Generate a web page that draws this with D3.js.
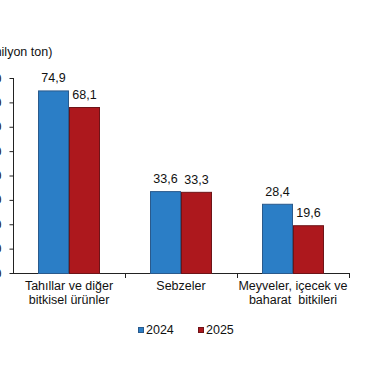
<!DOCTYPE html>
<html>
<head>
<meta charset="utf-8">
<script src="https://cdn.jsdelivr.net/npm/d3@7"></script>
<style>
body { margin: 0; background: #fff; }
text { font-family: "Liberation Sans", Arial, sans-serif; fill: #111; }
</style>
</head>
<body>
<div id="chart"></div>
<script>
// data
var categories = [["Tahıllar ve diğer", "bitkisel ürünler"], ["Sebzeler"], ["Meyveler, içecek ve", "baharat  bitkileri"]];
var years = ["2024", "2025"];
var values2024 = [74.9, 33.6, 28.4];
var values2025 = [68.1, 33.3, 19.6];
var yTicks = [0, 10, 20, 30, 40, 50, 60, 70, 80];
var colors = ["#2b7ec6", "#ad181d"];
var strokes = ["#2a5a8c", "#6e1418"];

var width = 370, height = 380;
var mLeft = 13, mRight = 349, mTop = 78, mBottom = 273;

var svg = d3.select("#chart").append("svg")
    .attr("width", width).attr("height", height);

var x = d3.scaleBand().domain(d3.range(categories.length)).range([mLeft, mRight]).paddingInner(0).paddingOuter(0);
var y = d3.scaleLinear().domain([0, 80]).range([mBottom, mTop]);

// unit title, cut at the left as in the original
svg.append("text").attr("x", -13).attr("y", 56).attr("font-size", 12.5).text("(milyon ton)");

// y axis
var yAxis = svg.append("g").attr("transform", "translate(" + (mLeft + 0.5) + ",0)")
    .call(d3.axisLeft(y).tickValues(yTicks).tickSize(4).tickPadding(8).tickFormat(d3.format("d")));
yAxis.selectAll("text").attr("font-size", 12.5).style("font-family", "Liberation Sans, Arial, sans-serif").attr("fill", "#111");
yAxis.selectAll("line").attr("stroke", "#222");
yAxis.select(".domain").attr("stroke", "#222").attr("d", "M0," + mTop + "V" + mBottom);

// x axis line and category ticks
svg.append("line").attr("x1", mLeft).attr("x2", mRight).attr("y1", mBottom + 0.5).attr("y2", mBottom + 0.5).attr("stroke", "#222");
svg.selectAll(".xt").data(d3.range(1, categories.length + 1)).enter().append("line")
    .attr("x1", function(d) { return d < categories.length ? x(d) + 0.5 : mRight + 0.5; })
    .attr("x2", function(d) { return d < categories.length ? x(d) + 0.5 : mRight + 0.5; })
    .attr("y1", mBottom).attr("y2", mBottom + 5).attr("stroke", "#222");

var barW = 31;
var series = [values2024, values2025];
series.forEach(function(vals, s) {
  var g = svg.append("g");
  g.selectAll("rect").data(vals).enter().append("rect")
    .attr("x", function(d, i) { return x(i) + x.bandwidth() / 2 - barW + s * barW + 0.5; })
    .attr("y", function(d) { return y(d) + 0.5; })
    .attr("width", barW - 1)
    .attr("height", function(d) { return y(0) - y(d); })
    .attr("fill", colors[s])
    .attr("stroke", strokes[s]).attr("stroke-width", 1);
  g.selectAll("text").data(vals).enter().append("text")
    .attr("x", function(d, i) { return x(i) + x.bandwidth() / 2 - barW + s * barW + barW / 2; })
    .attr("y", function(d) { return y(d) - 8; })
    .attr("text-anchor", "middle").attr("font-size", 12.5)
    .text(function(d) { return d3.format(".1f")(d).replace(".", ","); });
});

// category labels
categories.forEach(function(lines, i) {
  var t = svg.append("text").attr("text-anchor", "middle").attr("font-size", 12.5)
    .attr("x", x(i) + x.bandwidth() / 2).attr("y", 290);
  lines.forEach(function(l, k) {
    t.append("tspan").attr("x", x(i) + x.bandwidth() / 2).attr("dy", k === 0 ? 0 : 13.5).style("white-space", "pre").text(l);
  });
});

// legend
var legX = [138, 198];
years.forEach(function(yr, s) {
  svg.append("rect").attr("x", legX[s] + 0.5).attr("y", 327.5).attr("width", 5).attr("height", 5)
    .attr("fill", colors[s]).attr("stroke", strokes[s]);
  svg.append("text").attr("x", legX[s] + 8).attr("y", 334).attr("font-size", 12.5).text(yr);
});
</script>
</body>
</html>
